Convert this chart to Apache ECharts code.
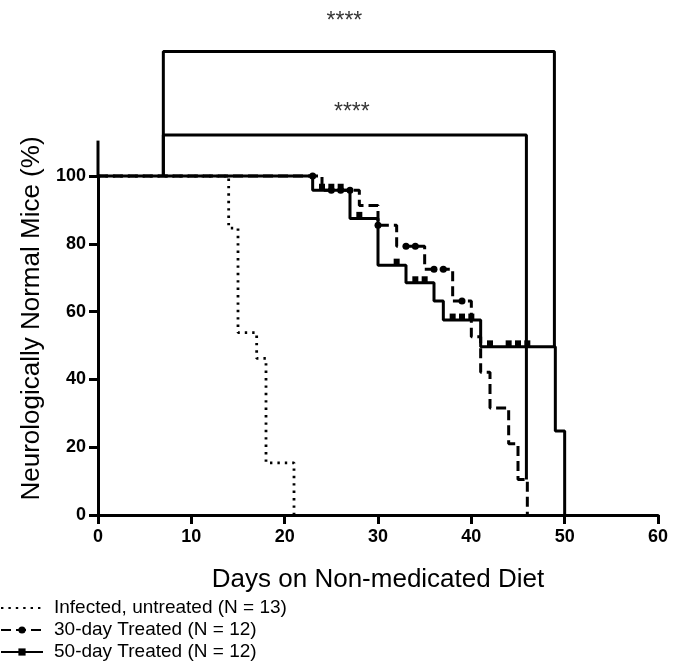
<!DOCTYPE html>
<html><head><meta charset="utf-8">
<script src="https://cdn.jsdelivr.net/npm/echarts@6/dist/echarts.min.js"></script>
<style>html,body{margin:0;padding:0;background:#fff}#c{width:684px;height:664px}</style>
</head><body><div id="c"></div>
<script>
// ---- data ----
const xTicks = [0, 10, 20, 30, 40, 50, 60];
const yTicks = [0, 20, 40, 60, 80, 100];
const yAxisLineTop = 110;   // the y axis line runs a little above the last tick

const untreatedName = 'Infected, untreated (N = 13)';
const untreatedDays = [0, 14, 15, 17, 18, 21];
const untreatedPct  = [100, 84.6, 53.8, 46.2, 15.4, 0];

const day30Name = '30-day Treated (N = 12)';
const day30Days = [0, 24, 28, 30, 32, 35, 38, 40, 41, 42, 44, 45, 46];
const day30Pct  = [100, 95.8, 91.3, 85.5, 79.3, 72.5, 63.1, 52.6, 42.1, 31.6, 21.0, 10.5, 0];
const day30Censored = [23, 25, 26, 27, 30, 33, 34, 36, 37, 39];

const day50Name = '50-day Treated (N = 12)';
const day50Days = [0, 23, 27, 30, 33, 36, 37, 41, 49, 50];
const day50Pct  = [100, 95.8, 87.5, 73.7, 68.5, 63.1, 57.5, 49.6, 24.8, 0];
const day50Censored = [24, 25, 26, 28, 32, 34, 35, 38, 39, 40, 42, 44, 45, 46];

// significance brackets (outer, inner)
const bracketLeftDay   = [7, 7];
const bracketRightDay  = [48.9, 45.9];
const bracketTopPct    = [136.7, 112.1];
const bracketLeftEnd   = [100, 100];
const bracketRightEnd  = [49.6, 10.5];
const starDay  = [26.4, 27.2];
const starPct  = [145.4, 118.8];
const starText = ['****', '****'];

// ---- build ----
function levelAt(days, pct, t) {
  let v = pct[0];
  for (let i = 0; i < days.length; i++) if (days[i] <= t) v = pct[i];
  return v;
}
function buildKM(days, pct, censored) {
  const pts = days.map((d, i) => ({ d, o: 0, item: { value: [d, pct[i]], symbol: 'none' } }));
  (censored || []).forEach(c => pts.push({ d: c, o: 1, item: { value: [c, levelAt(days, pct, c)] } }));
  pts.sort((a, b) => a.d - b.d || a.o - b.o);
  return pts.map(p => p.item);
}

const font = "'Liberation Sans', Arial, sans-serif";
const black = '#000';
const yMax = yTicks[yTicks.length - 1];

const series = [
  {
    name: untreatedName, type: 'line', step: 'end',
    data: buildKM(untreatedDays, untreatedPct, []),
    symbol: 'none',
    lineStyle: { color: black, width: 2.8, type: [2.4, 5] },
    itemStyle: { color: black }, z: 3
  },
  {
    name: day30Name, type: 'line', step: 'end',
    data: buildKM(day30Days, day30Pct, day30Censored),
    symbol: 'circle', symbolSize: 7, showSymbol: true, clip: false,
    lineStyle: { color: black, width: 3, type: [10, 5] },
    itemStyle: { color: black }, z: 4
  },
  {
    name: day50Name, type: 'line', step: 'end',
    data: buildKM(day50Days, day50Pct, day50Censored),
    symbol: 'rect', symbolSize: [6, 7], symbolOffset: [0, -3], showSymbol: true, clip: false,
    lineStyle: { color: black, width: 3 },
    itemStyle: { color: black }, z: 5
  },
  {
    // upward extension of the y axis line
    type: 'line', clip: false, symbol: 'none', silent: true, z: 6,
    data: [[xTicks[0], yMax], [xTicks[0], yAxisLineTop]],
    lineStyle: { color: black, width: 3, cap: 'square' }
  }
];

bracketLeftDay.forEach((l, i) => {
  series.push({
    type: 'line', clip: false, symbol: 'none', silent: true, z: 2,
    data: [[l, bracketLeftEnd[i]], [l, bracketTopPct[i]], [bracketRightDay[i], bracketTopPct[i]], [bracketRightDay[i], bracketRightEnd[i]]],
    lineStyle: { color: black, width: 3 }
  });
});
series.push({
  type: 'scatter', clip: false, symbolSize: 0, silent: true,
  data: starDay.map((d, i) => ({ value: [d, starPct[i]], label: { formatter: starText[i] } })),
  label: { show: true, position: 'inside', color: black, fontSize: 23, fontFamily: font }
});

const chart = echarts.init(document.getElementById('c'), null, { renderer: 'canvas' });
chart.setOption({
  animation: false,
  backgroundColor: '#fff',
  grid: { left: 98, right: 26, top: 176, bottom: 149 },
  legend: {
    data: [
      { name: untreatedName, itemStyle: { color: 'rgba(0,0,0,0)', borderWidth: 0, opacity: 0 } },
      { name: day30Name },
      { name: day50Name }
    ],
    orient: 'vertical', left: 0, top: 598, padding: 0,
    itemWidth: 42, itemHeight: 9, itemGap: 2,
    textStyle: { color: black, fontSize: 19, lineHeight: 20, fontFamily: font, padding: [0, 0, 0, 6] }
  },
  xAxis: {
    type: 'value', min: xTicks[0], max: xTicks[xTicks.length - 1], interval: 10,
    name: 'Days on Non-medicated Diet', nameLocation: 'middle', nameGap: 52,
    nameTextStyle: { color: black, fontSize: 26, fontFamily: font },
    axisLine: { onZero: false, lineStyle: { color: black, width: 3 } },
    axisTick: { show: true, inside: false, length: 9, lineStyle: { color: black, width: 3 } },
    axisLabel: { color: black, fontSize: 18, fontWeight: 'bold', fontFamily: font, margin: 13 },
    splitLine: { show: false }
  },
  yAxis: {
    type: 'value', min: yTicks[0], max: yMax, interval: 20,
    name: 'Neurologically Normal Mice (%)', nameLocation: 'middle', nameGap: 50,
    nameTextStyle: { color: black, fontSize: 26, fontFamily: font, padding: [0, 0, 0, 54] },
    axisLine: { show: true, onZero: false, lineStyle: { color: black, width: 3 } },
    axisTick: { show: true, inside: false, length: 9, lineStyle: { color: black, width: 3 } },
    axisLabel: { color: black, fontSize: 18, fontWeight: 'bold', fontFamily: font, margin: 12 },
    splitLine: { show: false }
  },
  series: series
});
</script></body></html>
